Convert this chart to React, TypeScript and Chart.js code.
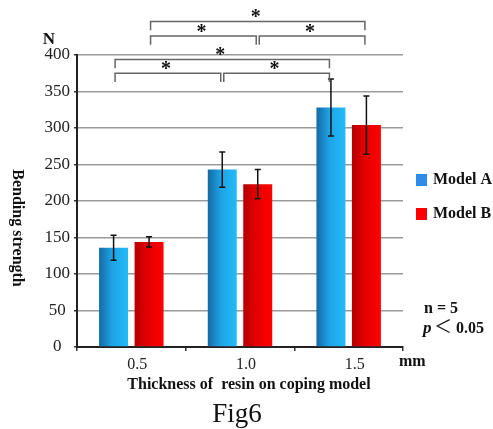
import React, { useEffect, useRef } from 'react';
import { Chart, registerables } from 'chart.js';
Chart.register(...registerables);

const categories = ['0.5', '1.0', '1.5'];
const seriesNames = ['Model A', 'Model B'];
const modelA = [136, 243, 328];
const modelB = [144, 223, 304];
const errA = [17, 24, 39];
const errB = [7, 20, 40];
const yMax = 400;
const yStep = 50;
// [datasetFrom, indexFrom, datasetTo, indexTo, level (N)]
const brackets: number[][] = [
  [1, 0, 1, 2, 446],
  [1, 0, 1, 1, 426],
  [1, 1, 1, 2, 426],
  [0, 0, 0, 2, 394],
  [0, 0, 0, 1, 375],
  [0, 1, 0, 2, 375],
];
const legLength = 12;
const errors = [errA, errB];

const SERIF = '"Liberation Serif", "Times New Roman", serif';
const gradStops = [
  ['#156aa5', '#1ea4e6', '#22bbf8'],
  ['#b50000', '#e40000', '#ff0000'],
];
const legendColors = ['#2f8be9', '#ff0000'];

const decor = {
  id: 'decor',
  beforeDatasetsDraw(chart: any) {
    const ctx = chart.ctx;
    chart.data.datasets.forEach((_ds: any, di: number) => {
      const meta = chart.getDatasetMeta(di);
      meta.data.forEach((bar: any) => {
        const l = bar.x - bar.width / 2;
        const r = bar.x + bar.width / 2;
        const g = ctx.createLinearGradient(l, 0, r, 0);
        const s = gradStops[di];
        g.addColorStop(0, s[0]);
        g.addColorStop(0.45, s[1]);
        g.addColorStop(1, s[2]);
        bar.options = Object.assign({}, bar.options, { backgroundColor: g });
      });
    });
  },
  afterDatasetsDraw(chart: any) {
    const ctx = chart.ctx;
    const y = chart.scales.y;
    ctx.save();
    // error bars
    chart.data.datasets.forEach((ds: any, di: number) => {
      const meta = chart.getDatasetMeta(di);
      meta.data.forEach((bar: any, i: number) => {
        const v = ds.data[i];
        const e = errors[di][i];
        const top = y.getPixelForValue(v + e);
        const bot = y.getPixelForValue(v - e);
        ctx.strokeStyle = '#111';
        ctx.lineWidth = 1.5;
        ctx.beginPath();
        ctx.moveTo(bar.x, top);
        ctx.lineTo(bar.x, bot);
        ctx.moveTo(bar.x - 3, top);
        ctx.lineTo(bar.x + 3, top);
        ctx.moveTo(bar.x - 3, bot);
        ctx.lineTo(bar.x + 3, bot);
        ctx.stroke();
      });
    });
    // significance brackets
    brackets.forEach((b) => {
      const [d0, i0, d1, i1, lvl] = b;
      const x0 = chart.getDatasetMeta(d0).data[i0].x + 1.5;
      const x1 = chart.getDatasetMeta(d1).data[i1].x - 1.5;
      const yl = y.getPixelForValue(lvl);
      const yb = y.getPixelForValue(lvl - legLength);
      ctx.strokeStyle = '#666';
      ctx.lineWidth = 1.5;
      ctx.beginPath();
      ctx.moveTo(x0, yb);
      ctx.lineTo(x0, yl);
      ctx.lineTo(x1, yl);
      ctx.lineTo(x1, yb);
      ctx.stroke();
      ctx.fillStyle = '#111';
      ctx.font = `bold 20px ${SERIF}`;
      ctx.textAlign = 'center';
      ctx.textBaseline = 'alphabetic';
      ctx.fillText('*', (x0 + x1) / 2 - 2, yl + 2);
    });
    ctx.restore();
  },
  afterDraw(chart: any) {
    const ctx = chart.ctx;
    ctx.save();
    ctx.fillStyle = '#111';
    ctx.textBaseline = 'middle';
    // unit N
    ctx.font = `bold 17px ${SERIF}`;
    ctx.textAlign = 'center';
    ctx.fillText('N', 49, 40);
    // mm
    ctx.font = `bold 16px ${SERIF}`;
    ctx.textAlign = 'left';
    ctx.fillText('mm', 399, 362);
    // x title
    ctx.textAlign = 'center';
    ctx.font = `bold 16px ${SERIF}`;
    ctx.fillText('Thickness of  resin on coping model', 249, 385);
    // Fig6
    ctx.font = `27px ${SERIF}`;
    ctx.textBaseline = 'alphabetic';
    ctx.fillText('Fig6', 237, 422);
    // y title rotated
    ctx.save();
    ctx.translate(17, 228);
    ctx.rotate(Math.PI / 2);
    ctx.font = `bold 16px ${SERIF}`;
    ctx.textAlign = 'center';
    ctx.textBaseline = 'middle';
    ctx.fillText('Bending strength', 0, 0);
    ctx.restore();
    // legend
    const legendY = [180, 214];
    seriesNames.forEach((name, i) => {
      ctx.fillStyle = legendColors[i];
      ctx.fillRect(416, legendY[i] - 6, 11, 12);
      ctx.fillStyle = '#111';
      ctx.font = `bold 16px ${SERIF}`;
      ctx.textAlign = 'left';
      ctx.textBaseline = 'middle';
      ctx.fillText(name, 433, legendY[i]);
    });
    // n = 5, p < 0.05
    ctx.textBaseline = 'alphabetic';
    ctx.font = `bold 16px ${SERIF}`;
    ctx.fillText('n = 5', 424, 313);
    ctx.font = `italic bold 17px ${SERIF}`;
    ctx.fillText('p', 423, 333);
    ctx.font = `18px "Noto Sans CJK JP", ${SERIF}`;
    ctx.fillText('＜', 434, 333);
    ctx.font = `bold 16px ${SERIF}`;
    ctx.fillText('0.05', 456, 333);
    ctx.restore();
  },
};

export default function App() {
  const ref = useRef<HTMLCanvasElement>(null);
  useEffect(() => {
    if (!ref.current) return;
    const chart = new Chart(ref.current, {
      type: 'bar',
      data: {
        labels: categories,
        datasets: [
          { label: seriesNames[0], data: modelA, backgroundColor: '#1ea4e6', borderWidth: 0 },
          { label: seriesNames[1], data: modelB, backgroundColor: '#e40000', borderWidth: 0 },
        ],
      },
      options: {
        responsive: false,
        animation: false,
        devicePixelRatio: 1,
        categoryPercentage: 0.653,
        barPercentage: 0.817,
        layout: { padding: { top: 55, right: 90, left: 0, bottom: 0 } },
        plugins: { legend: { display: false }, tooltip: { enabled: false } },
        scales: {
          x: {
            type: 'category',
            offset: true,
            grid: { offset: true, drawOnChartArea: false, drawTicks: true, tickLength: 4, color: '#333', lineWidth: 1.5 },
            border: { color: '#222', width: 2 },
            ticks: { font: { family: SERIF, size: 16 }, color: '#222', padding: 4, labelOffset: 6, maxRotation: 0 },
            afterFit: (s: any) => { s.height = 82; },
          },
          y: {
            min: 0,
            max: yMax,
            ticks: { stepSize: yStep, font: { family: SERIF, size: 17 }, color: '#222', crossAlign: 'center', padding: 4 },
            grid: { color: '#9a9a9a', lineWidth: 1.5, tickLength: 3, tickColor: '#333' },
            border: { color: '#222', width: 2 },
            afterFit: (s: any) => { s.width = 77; },
          },
        },
      } as any,
      plugins: [decor],
    });
    return () => chart.destroy();
  }, []);
  return (
    <div style={{ position: 'absolute', left: 0, top: 0, width: 493, height: 429, background: '#fff' }}>
      <canvas ref={ref} width={493} height={429} style={{ width: 493, height: 429, display: 'block' }} />
    </div>
  );
}
